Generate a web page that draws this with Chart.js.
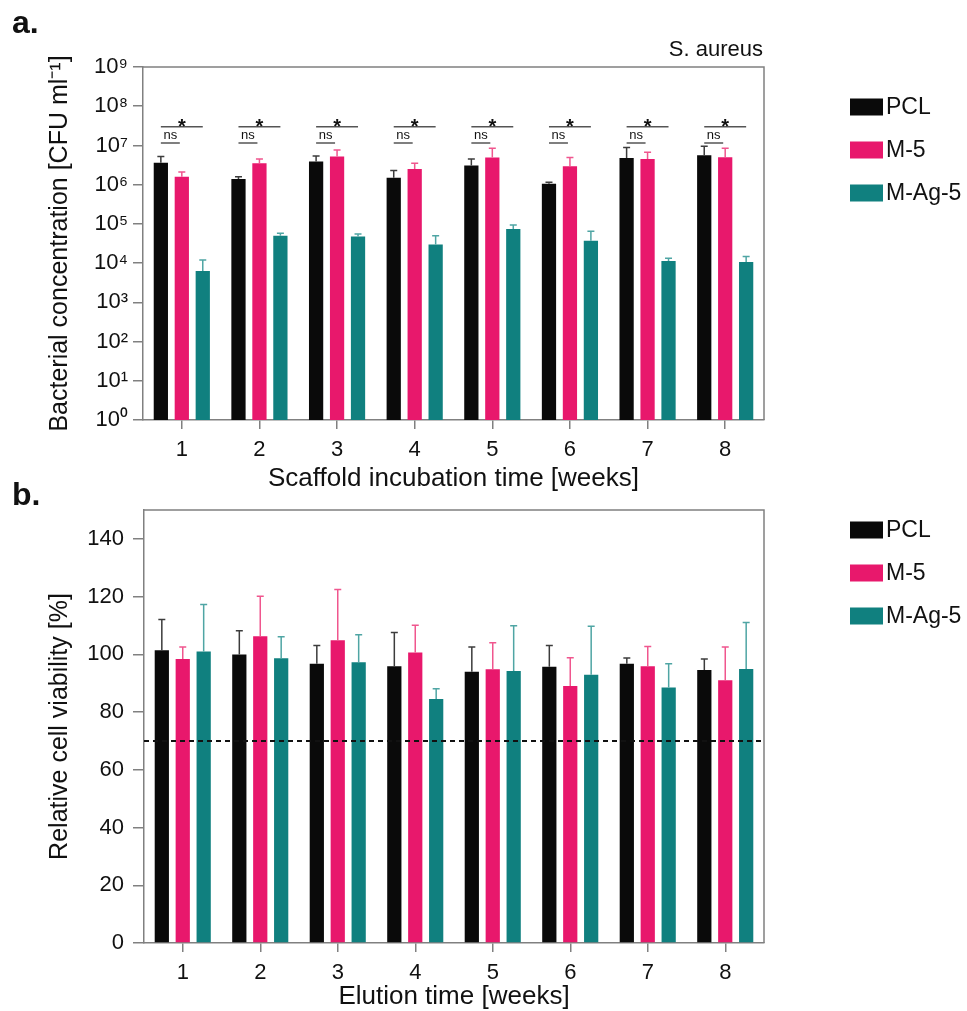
<!DOCTYPE html>
<html>
<head>
<meta charset="utf-8">
<script src="https://cdn.jsdelivr.net/npm/chart.js@4.4.1/dist/chart.umd.min.js"></script>
<style>
  html, body { margin: 0; padding: 0; background: #fff; overflow: hidden; }
  body { width: 967px; height: 1011px; position: relative; }
  canvas { position: absolute; left: 0; }
  #chartA { top: 0; }
  #chartB { top: 470px; }
</style>
</head>
<body>
<canvas id="chartA" width="967" height="500"></canvas>
<canvas id="chartB" width="967" height="550"></canvas>
<script>
const weeks = ['1', '2', '3', '4', '5', '6', '7', '8'];
const groups = ['PCL', 'M-5', 'M-Ag-5'];
const barColors = ['#0a0a0a', '#e8186c', '#10807f'];
const errColors = ['#3c3c3c', '#f0568e', '#4fa5a4'];

// a. bacterial concentration [CFU/ml] - bar value and top of error bar
const cfuPCL = [3.6e6, 1.4e6, 3.9e6, 1.5e6, 3.1e6, 1.05e6, 4.8e6, 5.6e6];
const cfuPCLErr = [5.2e6, 1.6e6, 5.4e6, 2.3e6, 4.5e6, 1.15e6, 8.9e6, 9.6e6];
const cfuM5 = [1.6e6, 3.5e6, 5.2e6, 2.5e6, 4.9e6, 2.95e6, 4.5e6, 5.0e6];
const cfuM5Err = [2.1e6, 4.5e6, 7.7e6, 3.5e6, 8.5e6, 4.9e6, 6.7e6, 8.5e6];
const cfuMAg5 = [6.3e3, 5.0e4, 4.8e4, 3.0e4, 7.4e4, 3.7e4, 1.14e4, 1.07e4];
const cfuMAg5Err = [1.2e4, 5.8e4, 5.5e4, 5.0e4, 9.4e4, 6.5e4, 1.33e4, 1.47e4];
const cfuTicks = [1e0, 1e1, 1e2, 1e3, 1e4, 1e5, 1e6, 1e7, 1e8, 1e9];

// significance marks per week (PCL vs M-Ag-5, PCL vs M-5)
const sigStar = ['*', '*', '*', '*', '*', '*', '*', '*'];
const sigNs = ['ns', 'ns', 'ns', 'ns', 'ns', 'ns', 'ns', 'ns'];
const starLevel = 3.0e7;
const nsLevel = 1.15e7;

// b. relative cell viability [%]
const viaPCL = [101.4, 99.9, 96.7, 95.9, 94.0, 95.7, 96.7, 94.6];
const viaPCLErr = [112.1, 108.2, 103.1, 107.6, 102.5, 103.1, 98.7, 98.4];
const viaM5 = [98.4, 106.3, 104.9, 100.6, 94.8, 89.0, 95.9, 91.0];
const viaM5Err = [102.5, 120.1, 122.5, 110.1, 104.0, 98.8, 102.7, 102.5];
const viaMAg5 = [101.0, 98.6, 97.3, 84.5, 94.2, 92.9, 88.5, 94.9];
const viaMAg5Err = [117.3, 106.1, 106.8, 88.1, 109.9, 109.7, 96.7, 111.0];
const viabilityLimit = 70;

const FONT = "'Liberation Sans', Arial, sans-serif";
const axisColor = '#808080';
const textColor = '#111';
const sup = '⁰¹²³⁴⁵⁶⁷⁸⁹';

function makeDatasets(values, errs) {
    return groups.map((g, k) => ({
        label: g,
        data: values[k],
        errHigh: errs[k],
        backgroundColor: barColors[k],
        errColor: errColors[k],
        borderWidth: 0,
        categoryPercentage: 0.81,
        barPercentage: 0.68
    }));
}

// upward error bars with caps
const errorBars = {
    id: 'errorBars',
    afterDatasetsDraw(chart) {
        const ctx = chart.ctx;
        const y = chart.scales.y;
        ctx.save();
        ctx.lineWidth = 1.5;
        chart.data.datasets.forEach((ds, k) => {
            const meta = chart.getDatasetMeta(k);
            ctx.strokeStyle = ds.errColor;
            meta.data.forEach((bar, i) => {
                const yTop = y.getPixelForValue(ds.errHigh[i]);
                ctx.beginPath();
                ctx.moveTo(bar.x, bar.y);
                ctx.lineTo(bar.x, yTop);
                ctx.moveTo(bar.x - 3.5, yTop);
                ctx.lineTo(bar.x + 3.5, yTop);
                ctx.stroke();
            });
        });
        ctx.restore();
    }
};

// top and right edges of the plot frame
const frame = {
    id: 'frame',
    afterDraw(chart) {
        const { ctx, chartArea: a } = chart;
        ctx.save();
        ctx.strokeStyle = axisColor;
        ctx.lineWidth = 1.5;
        ctx.beginPath();
        ctx.moveTo(a.left, a.top);
        ctx.lineTo(a.right, a.top);
        ctx.lineTo(a.right, a.bottom);
        ctx.stroke();
        ctx.restore();
    }
};

// legend at the right, boxes + labels
const sideLegend = {
    id: 'sideLegend',
    afterDraw(chart, args, opts) {
        const ctx = chart.ctx;
        ctx.save();
        ctx.font = '23px ' + FONT;
        ctx.textBaseline = 'middle';
        chart.data.datasets.forEach((ds, k) => {
            const cy = opts.y + k * opts.gap;
            ctx.fillStyle = ds.backgroundColor;
            ctx.fillRect(opts.x, cy - 8.5, 33, 17);
            ctx.fillStyle = textColor;
            ctx.fillText(ds.label, opts.x + 36, cy + 1);
        });
        ctx.restore();
    }
};

// panel letters and other free text
const labels = {
    id: 'labels',
    afterDraw(chart, args, opts) {
        const ctx = chart.ctx;
        ctx.save();
        ctx.fillStyle = textColor;
        (opts.items || []).forEach(t => {
            ctx.font = t.font;
            ctx.textAlign = t.align || 'left';
            ctx.textBaseline = 'alphabetic';
            ctx.fillText(t.text, t.x, t.y);
        });
        ctx.restore();
    }
};

// significance brackets for panel a
const significance = {
    id: 'significance',
    afterDatasetsDraw(chart) {
        const ctx = chart.ctx;
        const y = chart.scales.y;
        const m0 = chart.getDatasetMeta(0), m1 = chart.getDatasetMeta(1), m2 = chart.getDatasetMeta(2);
        const ys = y.getPixelForValue(starLevel);
        const yn = y.getPixelForValue(nsLevel);
        ctx.save();
        ctx.strokeStyle = '#555';
        ctx.lineWidth = 1.5;
        ctx.fillStyle = textColor;
        ctx.textAlign = 'center';
        ctx.textBaseline = 'alphabetic';
        weeks.forEach((w, i) => {
            const x0 = m0.data[i].x, x1 = m1.data[i].x, x2 = m2.data[i].x;
            ctx.beginPath();
            ctx.moveTo(x0, ys);
            ctx.lineTo(x2, ys);
            ctx.moveTo(x0, yn);
            ctx.lineTo(x1 - 2, yn);
            ctx.stroke();
            ctx.font = 'bold 20px ' + FONT;
            ctx.fillText(sigStar[i], x1, ys + 6);
            ctx.font = '13px ' + FONT;
            ctx.fillText(sigNs[i], (x0 + x1) / 2 - 1, yn - 4);
        });
        ctx.restore();
    }
};

// dashed 70 % line for panel b
const limitLine = {
    id: 'limitLine',
    afterDatasetsDraw(chart) {
        const { ctx, chartArea: a } = chart;
        const yy = chart.scales.y.getPixelForValue(viabilityLimit);
        ctx.save();
        ctx.strokeStyle = '#111';
        ctx.lineWidth = 2;
        ctx.setLineDash([5, 4]);
        ctx.beginPath();
        ctx.moveTo(a.left, yy);
        ctx.lineTo(a.right, yy);
        ctx.stroke();
        ctx.restore();
    }
};

function xScale(title, titlePad, height) {
    return {
        grid: { offset: false, drawOnChartArea: false, tickLength: 9, color: axisColor, lineWidth: 1.5 },
        border: { color: axisColor, width: 1.5 },
        ticks: { font: { family: FONT, size: 22 }, color: textColor, padding: 8 },
        title: { display: true, text: title, color: textColor, font: { family: FONT, size: 26 }, padding: { top: 0, bottom: titlePad } },
        afterFit(s) { s.height = height; }
    };
}

Chart.defaults.font.family = FONT;

new Chart(document.getElementById('chartA'), {
    type: 'bar',
    data: {
        labels: weeks,
        datasets: makeDatasets([cfuPCL, cfuM5, cfuMAg5], [cfuPCLErr, cfuM5Err, cfuMAg5Err])
    },
    options: {
        responsive: false,
        animation: false,
        layout: { padding: { top: 67, right: 203, left: 0, bottom: 0 } },
        plugins: {
            legend: { display: false },
            tooltip: { enabled: false },
            sideLegend: { x: 850, y: 107, gap: 43 },
            labels: {
                items: [
                    { text: 'a.', x: 12, y: 33, font: 'bold 32px ' + FONT },
                    { text: 'S. aureus', x: 763, y: 56, align: 'right', font: '22px ' + FONT }
                ]
            }
        },
        scales: {
            x: xScale('Scaffold incubation time [weeks]', 6, 80),
            y: {
                type: 'logarithmic',
                min: 1,
                max: 1e9,
                afterBuildTicks(s) { s.ticks = cfuTicks.map(v => ({ value: v })); },
                grid: { drawOnChartArea: false, tickLength: 10, color: axisColor, lineWidth: 1.5 },
                border: { color: axisColor, width: 1.5 },
                ticks: {
                    font: { family: FONT, size: 22 }, color: textColor, padding: 5,
                    callback: v => '10' + sup[Math.round(Math.log10(v))]
                },
                title: { display: true, text: 'Bacterial concentration [CFU ml⁻¹]', color: textColor, font: { family: FONT, size: 25 }, padding: { top: 45, bottom: 0 } },
                afterFit(s) { s.width = 143; }
            }
        }
    },
    plugins: [errorBars, significance, frame, sideLegend, labels]
});

new Chart(document.getElementById('chartB'), {
    type: 'bar',
    data: {
        labels: weeks,
        datasets: makeDatasets([viaPCL, viaM5, viaMAg5], [viaPCLErr, viaM5Err, viaMAg5Err])
    },
    options: {
        responsive: false,
        animation: false,
        layout: { padding: { top: 40, right: 203, left: 0, bottom: 0 } },
        plugins: {
            legend: { display: false },
            tooltip: { enabled: false },
            sideLegend: { x: 850, y: 60, gap: 43 },
            labels: {
                items: [
                    { text: 'b.', x: 12, y: 35, font: 'bold 32px ' + FONT }
                ]
            }
        },
        scales: {
            x: xScale('Elution time [weeks]', 8, 77),
            y: {
                min: 0,
                max: 150,
                grid: { drawOnChartArea: false, tickLength: 11, color: axisColor, lineWidth: 1.5 },
                border: { color: axisColor, width: 1.5 },
                ticks: {
                    stepSize: 10,
                    font: { family: FONT, size: 22 }, color: textColor, padding: 9,
                    callback: v => (v % 20 === 0 ? String(v) : '')
                },
                title: { display: true, text: 'Relative cell viability [%]', color: textColor, font: { family: FONT, size: 25 }, padding: { top: 45, bottom: 0 } },
                afterFit(s) { s.width = 144; }
            }
        }
    },
    plugins: [errorBars, limitLine, frame, sideLegend, labels]
});
</script>
</body>
</html>
